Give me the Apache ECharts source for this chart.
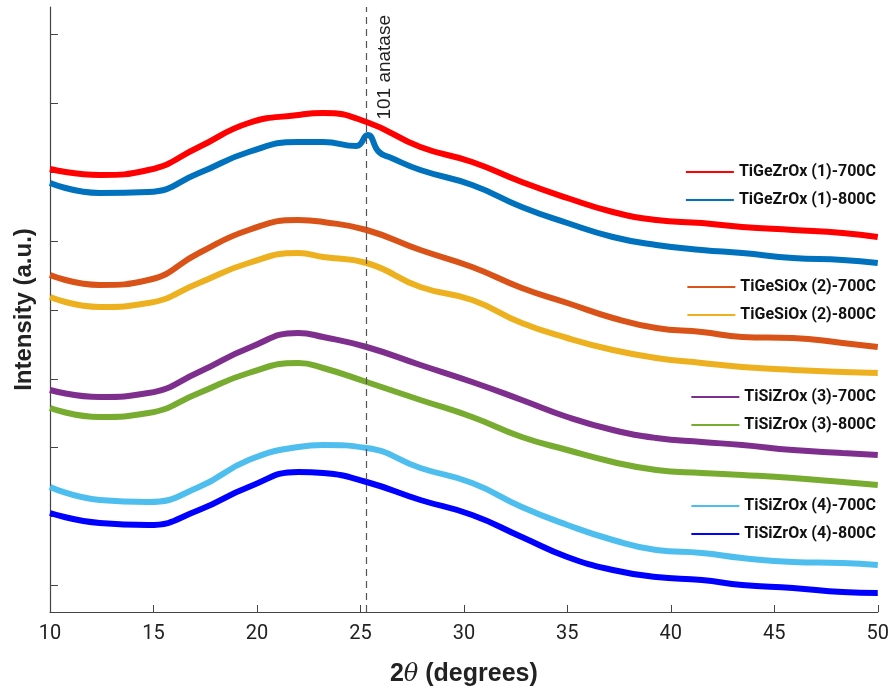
<!DOCTYPE html>
<html>
<head>
<meta charset="utf-8">
<script src="https://cdn.jsdelivr.net/npm/echarts@6/dist/echarts.min.js"></script>
<style>
  html, body { margin: 0; padding: 0; background: #fff; }
</style>
</head>
<body>
<div id="main" style="width: 892px;height:694px;"></div>

<script type="text/javascript">
    var twoTheta = [10, 12.4, 14.75, 17.2, 19.6, 22, 23.2, 25.3, 27.9, 30.4, 32.8, 35, 37.2, 39.3, 41.5, 43.45, 45.9, 48.3, 50];
    // the 800C sample of (1) has the small anatase peak, so it gets a few more points
    var twoThetaPeak = [10, 12.4, 14.75, 17.2, 19.6, 22, 23.2, 24.8, 25.35, 25.9, 26.5, 27.9, 30.4, 32.8, 35, 37.2, 39.3, 41.5, 43.45, 45.9, 48.3, 50];

    // intensities (a.u., offset stacked)
    var geZr700 = [443, 437, 442, 465, 489, 497, 499, 490, 465, 450, 430, 414, 400, 392, 389, 385, 382, 379, 375];
    var geZr800 = [429, 419, 420, 439, 460, 470, 470, 466, 477, 460, 454, 442, 427, 405, 389, 375, 367, 362, 359, 354, 352, 349];
    var geSi700 = [337, 327, 332, 359, 382, 392, 390, 382, 362, 345, 324, 309, 294, 284, 280, 275, 274, 269, 265];
    var geSi800 = [315, 305, 309, 329, 349, 359, 355, 349, 325, 312, 289, 274, 262, 254, 249, 245, 242, 240, 239];
    var siZr3_700 = [222, 215, 219, 240, 264, 279, 275, 265, 247, 230, 212, 195, 182, 174, 170, 167, 162, 159, 157];
    var siZr3_800 = [204, 195, 199, 219, 239, 249, 244, 230, 212, 195, 175, 162, 150, 142, 139, 137, 134, 130, 127];
    var siZr4_700 = [125, 112, 110, 125, 152, 165, 167, 164, 144, 129, 105, 87, 72, 62, 59, 54, 50, 49, 47];
    var siZr4_800 = [99, 89, 87, 102, 125, 140, 139, 130, 112, 97, 75, 55, 42, 35, 32, 27, 24, 20, 19];

    var seriesNames = ['TiGeZrOx (1)-700C', 'TiGeZrOx (1)-800C', 'TiGeSiOx (2)-700C', 'TiGeSiOx (2)-800C',
        'TiSiZrOx (3)-700C', 'TiSiZrOx (3)-800C', 'TiSiZrOx (4)-700C', 'TiSiZrOx (4)-800C'];
    var colors = ['#FF0000', '#0072BD', '#D95319', '#EDB120', '#7E2F8E', '#77AC30', '#4DBEEE', '#0000FF'];

    var xTicks = [10, 15, 20, 25, 30, 35, 40, 45, 50];
    var yTicks = [27, 96, 165, 233, 302, 371, 440, 509, 578];
    var anatase101 = 25.3;

    function pairs(xs, ys) {
        return xs.map(function (x, i) { return [x, ys[i]]; });
    }

    var allData = [
        pairs(twoTheta, geZr700),
        pairs(twoThetaPeak, geZr800),
        pairs(twoTheta, geSi700),
        pairs(twoTheta, geSi800),
        pairs(twoTheta, siZr3_700),
        pairs(twoTheta, siZr3_800),
        pairs(twoTheta, siZr4_700),
        pairs(twoTheta, siZr4_800)
    ];

    var cond = 'Roboto, "Liberation Sans", Arial, sans-serif';
    var sans = '"Liberation Sans", Arial, sans-serif';

    var series = allData.map(function (d, i) {
        return {
            name: seriesNames[i],
            type: 'line',
            data: d,
            symbol: 'none',
            smooth: 0.5,
            lineStyle: { width: 6, color: colors[i] },
            itemStyle: { color: colors[i] }
        };
    });
    // dashed guide at the anatase (101) reflection
    series[0].markLine = {
        silent: true,
        symbol: 'none',
        label: { show: false },
        lineStyle: { type: [7, 5], color: '#555', width: 1.2 },
        data: [{ xAxis: anatase101 }]
    };

    // legends come in pairs, one component per sample
    var legendTops = [163, 278, 388, 497];
    var legends = legendTops.map(function (t, k) {
        return {
            data: [seriesNames[2 * k], seriesNames[2 * k + 1]],
            orient: 'vertical',
            right: 16,
            top: t,
            padding: 0,
            itemGap: 10,
            icon: 'rect',
            itemWidth: 48,
            itemHeight: 2,
            selectedMode: false,
            textStyle: { fontFamily: cond, fontWeight: 'bold', fontSize: 16, color: '#111', height: 18, lineHeight: 18 }
        };
    });

    var myChart = echarts.init(document.getElementById('main'));

    var option = {
        backgroundColor: '#fff',
        animation: false,
        grid: { left: 50, right: 14, top: 7, bottom: 82 },
        legend: legends,
        xAxis: {
            type: 'value',
            min: 10,
            max: 50,
            interval: 5,
            name: '{b|2}{i|θ}{b| (degrees)}',
            nameLocation: 'middle',
            nameGap: 50,
            nameTextStyle: {
                rich: {
                    b: { fontFamily: sans, fontWeight: 'bold', fontSize: 25, color: '#222' },
                    i: { fontFamily: 'DejaVu Serif, serif', fontStyle: 'italic', fontSize: 24, color: '#222' }
                }
            },
            axisLine: { lineStyle: { color: '#444', width: 1.2 } },
            axisTick: { inside: true, length: 7, lineStyle: { color: '#444' } },
            axisLabel: { margin: 12, fontFamily: cond, fontSize: 20, color: '#222', customValues: xTicks },
            splitLine: { show: false }
        },
        yAxis: {
            type: 'value',
            min: 0,
            max: 605,
            name: 'Intensity (a.u.)',
            nameLocation: 'middle',
            nameGap: 14,
            nameTextStyle: { fontFamily: sans, fontWeight: 'bold', fontSize: 24, color: '#222' },
            axisLine: { show: true, lineStyle: { color: '#444', width: 1.2 } },
            axisTick: { show: true, inside: true, length: 8, lineStyle: { color: '#444' }, customValues: yTicks },
            axisLabel: { show: false },
            splitLine: { show: false }
        },
        series: series
    };

    myChart.setOption(option);

    // vertical "101 anatase" label beside the dashed line
    var px = myChart.convertToPixel({ xAxisIndex: 0 }, anatase101);
    var py = myChart.convertToPixel({ yAxisIndex: 0 }, 603);
    myChart.setOption({
        graphic: [{
            type: 'text',
            x: px + 18,
            y: py + 6,
            rotation: Math.PI / 2,
            style: {
                text: '101 anatase',
                fontFamily: sans,
                fontSize: 19,
                fill: '#222',
                align: 'right',
                verticalAlign: 'middle'
            }
        }]
    });
</script>
</body>
</html>
